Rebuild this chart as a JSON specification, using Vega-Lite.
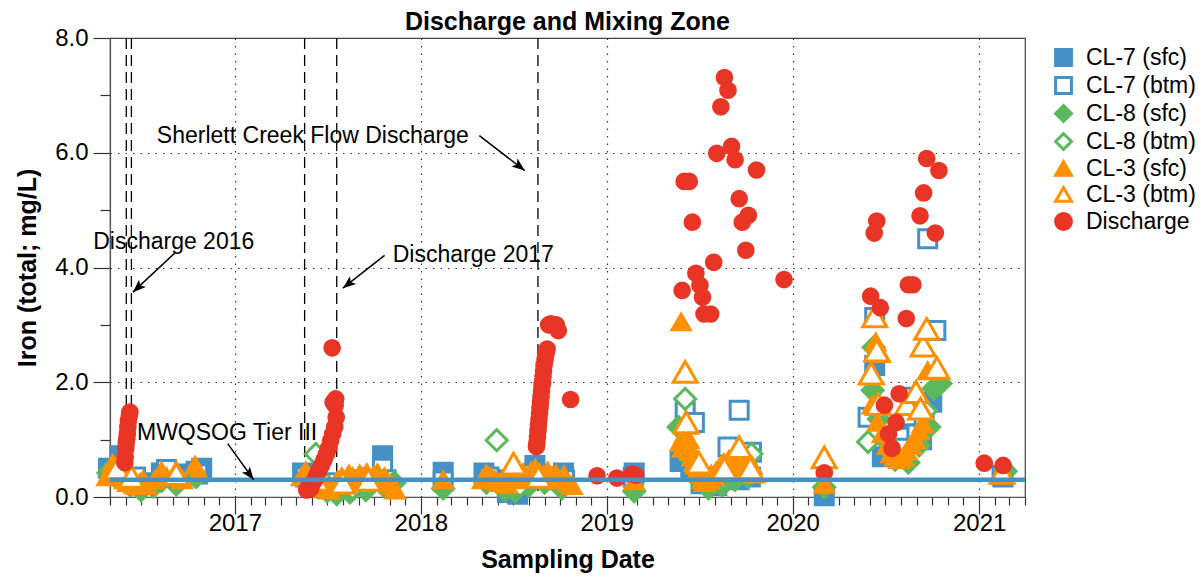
{
"$schema": "https://vega.github.io/schema/vega-lite/v6.json",
"width": 915, "height": 459,
"autosize": "none",
"padding": {"left": 110, "top": 38, "right": 175, "bottom": 84},
"background": "white",
"title": {"text": "Discharge and Mixing Zone", "font": "Liberation Sans", "fontSize": 25, "fontWeight": "bold", "color": "black", "anchor": "middle", "frame": "group", "offset": -9},
"datasets": {
"pts": [
{"s":"CL-7 (sfc)","date":"2016-04-28","iron":0.5},{"s":"CL-7 (sfc)","date":"2016-05-20","iron":0.72},{"s":"CL-7 (sfc)","date":"2016-06-15","iron":0.3},{"s":"CL-7 (sfc)","date":"2016-07-05","iron":0.25},{"s":"CL-7 (sfc)","date":"2016-08-10","iron":0.42},{"s":"CL-7 (sfc)","date":"2016-09-08","iron":0.4},{"s":"CL-7 (sfc)","date":"2016-10-17","iron":0.45},{"s":"CL-7 (sfc)","date":"2016-10-28","iron":0.5},{"s":"CL-7 (sfc)","date":"2017-05-14","iron":0.42},{"s":"CL-7 (sfc)","date":"2017-06-01","iron":0.2},{"s":"CL-7 (sfc)","date":"2017-07-01","iron":0.15},{"s":"CL-7 (sfc)","date":"2017-08-01","iron":0.2},{"s":"CL-7 (sfc)","date":"2017-09-01","iron":0.3},{"s":"CL-7 (sfc)","date":"2017-10-18","iron":0.72},{"s":"CL-7 (sfc)","date":"2018-02-14","iron":0.43},{"s":"CL-7 (sfc)","date":"2018-05-05","iron":0.42},{"s":"CL-7 (sfc)","date":"2018-05-25","iron":0.3},{"s":"CL-7 (sfc)","date":"2018-06-20","iron":0.08},{"s":"CL-7 (sfc)","date":"2018-07-10","iron":0.05},{"s":"CL-7 (sfc)","date":"2018-08-13","iron":0.55},{"s":"CL-7 (sfc)","date":"2018-09-20","iron":0.3},{"s":"CL-7 (sfc)","date":"2018-10-08","iron":0.42},{"s":"CL-7 (sfc)","date":"2019-02-24","iron":0.42},{"s":"CL-7 (sfc)","date":"2019-05-25","iron":0.62},{"s":"CL-7 (sfc)","date":"2019-06-15","iron":0.45},{"s":"CL-7 (sfc)","date":"2019-07-05","iron":0.23},{"s":"CL-7 (sfc)","date":"2019-08-01","iron":0.2},{"s":"CL-7 (sfc)","date":"2019-09-18","iron":0.3},{"s":"CL-7 (sfc)","date":"2019-10-10","iron":0.35},{"s":"CL-7 (sfc)","date":"2020-03-03","iron":0.02},{"s":"CL-7 (sfc)","date":"2020-06-10","iron":2.29},{"s":"CL-7 (sfc)","date":"2020-06-25","iron":0.7},{"s":"CL-7 (sfc)","date":"2020-07-15","iron":0.9},{"s":"CL-7 (sfc)","date":"2020-08-10","iron":1.1},{"s":"CL-7 (sfc)","date":"2020-09-10","iron":1.0},{"s":"CL-7 (sfc)","date":"2020-09-30","iron":1.65},{"s":"CL-7 (sfc)","date":"2021-02-17","iron":0.35},
{"s":"CL-7 (btm)","date":"2016-05-05","iron":0.45},{"s":"CL-7 (btm)","date":"2016-06-20","iron":0.35},{"s":"CL-7 (btm)","date":"2016-08-20","iron":0.48},{"s":"CL-7 (btm)","date":"2016-10-20","iron":0.4},{"s":"CL-7 (btm)","date":"2017-05-20","iron":0.35},{"s":"CL-7 (btm)","date":"2017-07-15","iron":0.25},{"s":"CL-7 (btm)","date":"2017-09-15","iron":0.3},{"s":"CL-7 (btm)","date":"2017-10-18","iron":0.5},{"s":"CL-7 (btm)","date":"2017-10-25","iron":0.3},{"s":"CL-7 (btm)","date":"2018-02-14","iron":0.28},{"s":"CL-7 (btm)","date":"2018-05-15","iron":0.35},{"s":"CL-7 (btm)","date":"2018-06-25","iron":0.2},{"s":"CL-7 (btm)","date":"2018-08-10","iron":0.4},{"s":"CL-7 (btm)","date":"2018-09-05","iron":0.35},{"s":"CL-7 (btm)","date":"2018-10-10","iron":0.3},{"s":"CL-7 (btm)","date":"2019-02-22","iron":0.35},{"s":"CL-7 (btm)","date":"2019-06-04","iron":1.48},{"s":"CL-7 (btm)","date":"2019-06-22","iron":1.3},{"s":"CL-7 (btm)","date":"2019-07-10","iron":0.3},{"s":"CL-7 (btm)","date":"2019-08-05","iron":0.2},{"s":"CL-7 (btm)","date":"2019-08-27","iron":0.87},{"s":"CL-7 (btm)","date":"2019-09-18","iron":1.51},{"s":"CL-7 (btm)","date":"2019-10-12","iron":0.78},{"s":"CL-7 (btm)","date":"2020-05-28","iron":1.39},{"s":"CL-7 (btm)","date":"2020-06-10","iron":3.13},{"s":"CL-7 (btm)","date":"2020-07-28","iron":1.04},{"s":"CL-7 (btm)","date":"2020-08-05","iron":0.85},{"s":"CL-7 (btm)","date":"2020-08-19","iron":1.74},{"s":"CL-7 (btm)","date":"2020-09-01","iron":1.1},{"s":"CL-7 (btm)","date":"2020-09-15","iron":1.39},{"s":"CL-7 (btm)","date":"2020-09-22","iron":4.5},{"s":"CL-7 (btm)","date":"2020-10-08","iron":2.9},{"s":"CL-7 (btm)","date":"2021-02-15","iron":0.38},
{"s":"CL-8 (sfc)","date":"2016-04-28","iron":0.42},{"s":"CL-8 (sfc)","date":"2016-06-10","iron":0.2},{"s":"CL-8 (sfc)","date":"2016-07-01","iron":0.12},{"s":"CL-8 (sfc)","date":"2016-07-25","iron":0.18},{"s":"CL-8 (sfc)","date":"2016-08-10","iron":0.28},{"s":"CL-8 (sfc)","date":"2016-09-08","iron":0.22},{"s":"CL-8 (sfc)","date":"2016-10-17","iron":0.35},{"s":"CL-8 (sfc)","date":"2017-05-18","iron":0.3},{"s":"CL-8 (sfc)","date":"2017-07-01","iron":0.1},{"s":"CL-8 (sfc)","date":"2017-07-20","iron":0.05},{"s":"CL-8 (sfc)","date":"2017-08-15","iron":0.08},{"s":"CL-8 (sfc)","date":"2017-09-15","iron":0.12},{"s":"CL-8 (sfc)","date":"2017-10-20","iron":0.2},{"s":"CL-8 (sfc)","date":"2017-11-10","iron":0.25},{"s":"CL-8 (sfc)","date":"2018-02-14","iron":0.15},{"s":"CL-8 (sfc)","date":"2018-05-10","iron":0.25},{"s":"CL-8 (sfc)","date":"2018-06-15","iron":0.12},{"s":"CL-8 (sfc)","date":"2018-07-05","iron":0.1},{"s":"CL-8 (sfc)","date":"2018-08-01","iron":0.2},{"s":"CL-8 (sfc)","date":"2018-09-01","iron":0.25},{"s":"CL-8 (sfc)","date":"2018-10-05","iron":0.15},{"s":"CL-8 (sfc)","date":"2019-02-24","iron":0.1},{"s":"CL-8 (sfc)","date":"2019-05-22","iron":1.22},{"s":"CL-8 (sfc)","date":"2019-06-10","iron":0.7},{"s":"CL-8 (sfc)","date":"2019-07-01","iron":0.3},{"s":"CL-8 (sfc)","date":"2019-07-20","iron":0.15},{"s":"CL-8 (sfc)","date":"2019-08-15","iron":0.2},{"s":"CL-8 (sfc)","date":"2019-09-10","iron":0.3},{"s":"CL-8 (sfc)","date":"2019-10-05","iron":0.35},{"s":"CL-8 (sfc)","date":"2020-03-03","iron":0.17},{"s":"CL-8 (sfc)","date":"2020-06-06","iron":1.86},{"s":"CL-8 (sfc)","date":"2020-06-08","iron":2.61},{"s":"CL-8 (sfc)","date":"2020-06-18","iron":1.36},{"s":"CL-8 (sfc)","date":"2020-07-01","iron":1.0},{"s":"CL-8 (sfc)","date":"2020-07-20","iron":0.65},{"s":"CL-8 (sfc)","date":"2020-08-15","iron":0.6},{"s":"CL-8 (sfc)","date":"2020-09-05","iron":0.9},{"s":"CL-8 (sfc)","date":"2020-09-25","iron":1.22},{"s":"CL-8 (sfc)","date":"2020-10-04","iron":1.89},{"s":"CL-8 (sfc)","date":"2020-10-17","iron":1.98},{"s":"CL-8 (sfc)","date":"2021-02-22","iron":0.45},
{"s":"CL-8 (btm)","date":"2016-05-12","iron":0.35},{"s":"CL-8 (btm)","date":"2016-06-25","iron":0.18},{"s":"CL-8 (btm)","date":"2016-09-10","iron":0.3},{"s":"CL-8 (btm)","date":"2017-06-09","iron":0.75},{"s":"CL-8 (btm)","date":"2017-06-20","iron":0.3},{"s":"CL-8 (btm)","date":"2017-08-20","iron":0.15},{"s":"CL-8 (btm)","date":"2018-05-30","iron":0.99},{"s":"CL-8 (btm)","date":"2018-07-15","iron":0.2},{"s":"CL-8 (btm)","date":"2019-06-04","iron":1.71},{"s":"CL-8 (btm)","date":"2019-07-15","iron":0.25},{"s":"CL-8 (btm)","date":"2019-10-12","iron":0.75},{"s":"CL-8 (btm)","date":"2020-05-28","iron":0.96},{"s":"CL-8 (btm)","date":"2020-07-10","iron":0.8},{"s":"CL-8 (btm)","date":"2020-09-18","iron":1.5},
{"s":"CL-3 (sfc)","date":"2016-04-25","iron":0.35},{"s":"CL-3 (sfc)","date":"2016-05-01","iron":0.45},{"s":"CL-3 (sfc)","date":"2016-05-06","iron":0.58},{"s":"CL-3 (sfc)","date":"2016-05-12","iron":0.5},{"s":"CL-3 (sfc)","date":"2016-05-18","iron":0.42},{"s":"CL-3 (sfc)","date":"2016-05-24","iron":0.35},{"s":"CL-3 (sfc)","date":"2016-05-30","iron":0.3},{"s":"CL-3 (sfc)","date":"2016-06-05","iron":0.25},{"s":"CL-3 (sfc)","date":"2016-06-11","iron":0.3},{"s":"CL-3 (sfc)","date":"2016-06-17","iron":0.22},{"s":"CL-3 (sfc)","date":"2016-06-23","iron":0.2},{"s":"CL-3 (sfc)","date":"2016-06-29","iron":0.25},{"s":"CL-3 (sfc)","date":"2016-07-05","iron":0.3},{"s":"CL-3 (sfc)","date":"2016-07-11","iron":0.2},
{"s":"CL-3 (sfc)","date":"2016-07-28","iron":0.3},{"s":"CL-3 (sfc)","date":"2016-08-10","iron":0.45},{"s":"CL-3 (sfc)","date":"2016-08-20","iron":0.35},{"s":"CL-3 (sfc)","date":"2016-09-08","iron":0.46},{"s":"CL-3 (sfc)","date":"2016-09-20","iron":0.3},{"s":"CL-3 (sfc)","date":"2016-10-15","iron":0.55},{"s":"CL-3 (sfc)","date":"2016-10-22","iron":0.42},
{"s":"CL-3 (sfc)","date":"2017-05-12","iron":0.35},{"s":"CL-3 (sfc)","date":"2017-05-20","iron":0.45},{"s":"CL-3 (sfc)","date":"2017-05-28","iron":0.3},{"s":"CL-3 (sfc)","date":"2017-06-05","iron":0.25},{"s":"CL-3 (sfc)","date":"2017-06-15","iron":0.2},{"s":"CL-3 (sfc)","date":"2017-06-25","iron":0.15},{"s":"CL-3 (sfc)","date":"2017-07-05","iron":0.12},{"s":"CL-3 (sfc)","date":"2017-07-15","iron":0.2},{"s":"CL-3 (sfc)","date":"2017-07-22","iron":0.3},{"s":"CL-3 (sfc)","date":"2017-07-30","iron":0.35},{"s":"CL-3 (sfc)","date":"2017-08-06","iron":0.3},{"s":"CL-3 (sfc)","date":"2017-08-13","iron":0.4},{"s":"CL-3 (sfc)","date":"2017-08-20","iron":0.35},{"s":"CL-3 (sfc)","date":"2017-08-27","iron":0.3},{"s":"CL-3 (sfc)","date":"2017-09-03","iron":0.4},{"s":"CL-3 (sfc)","date":"2017-09-10","iron":0.35},{"s":"CL-3 (sfc)","date":"2017-09-17","iron":0.42},{"s":"CL-3 (sfc)","date":"2017-09-24","iron":0.3},{"s":"CL-3 (sfc)","date":"2017-10-01","iron":0.38},{"s":"CL-3 (sfc)","date":"2017-10-08","iron":0.42},{"s":"CL-3 (sfc)","date":"2017-10-15","iron":0.3},{"s":"CL-3 (sfc)","date":"2017-10-22","iron":0.35},{"s":"CL-3 (sfc)","date":"2017-10-29","iron":0.25},{"s":"CL-3 (sfc)","date":"2017-11-05","iron":0.2},{"s":"CL-3 (sfc)","date":"2017-11-12","iron":0.12},
{"s":"CL-3 (sfc)","date":"2018-02-14","iron":0.3},
{"s":"CL-3 (sfc)","date":"2018-05-02","iron":0.3},{"s":"CL-3 (sfc)","date":"2018-05-10","iron":0.4},{"s":"CL-3 (sfc)","date":"2018-05-18","iron":0.35},{"s":"CL-3 (sfc)","date":"2018-05-26","iron":0.3},{"s":"CL-3 (sfc)","date":"2018-06-03","iron":0.25},{"s":"CL-3 (sfc)","date":"2018-06-11","iron":0.3},{"s":"CL-3 (sfc)","date":"2018-06-19","iron":0.22},{"s":"CL-3 (sfc)","date":"2018-06-27","iron":0.35},{"s":"CL-3 (sfc)","date":"2018-07-05","iron":0.3},{"s":"CL-3 (sfc)","date":"2018-07-13","iron":0.38},{"s":"CL-3 (sfc)","date":"2018-07-21","iron":0.42},{"s":"CL-3 (sfc)","date":"2018-07-29","iron":0.35},{"s":"CL-3 (sfc)","date":"2018-08-06","iron":0.45},{"s":"CL-3 (sfc)","date":"2018-08-14","iron":0.5},{"s":"CL-3 (sfc)","date":"2018-08-22","iron":0.42},{"s":"CL-3 (sfc)","date":"2018-08-30","iron":0.38},{"s":"CL-3 (sfc)","date":"2018-09-07","iron":0.45},{"s":"CL-3 (sfc)","date":"2018-09-15","iron":0.35},{"s":"CL-3 (sfc)","date":"2018-09-23","iron":0.4},{"s":"CL-3 (sfc)","date":"2018-10-01","iron":0.3},{"s":"CL-3 (sfc)","date":"2018-10-09","iron":0.38},{"s":"CL-3 (sfc)","date":"2018-10-17","iron":0.25},{"s":"CL-3 (sfc)","date":"2018-10-25","iron":0.2},
{"s":"CL-3 (sfc)","date":"2019-02-24","iron":0.28},
{"s":"CL-3 (sfc)","date":"2019-05-27","iron":3.05},{"s":"CL-3 (sfc)","date":"2019-05-25","iron":0.95},{"s":"CL-3 (sfc)","date":"2019-05-30","iron":0.85},{"s":"CL-3 (sfc)","date":"2019-06-03","iron":1.1},{"s":"CL-3 (sfc)","date":"2019-06-08","iron":1.25},{"s":"CL-3 (sfc)","date":"2019-06-11","iron":1.0},{"s":"CL-3 (sfc)","date":"2019-06-14","iron":0.8},{"s":"CL-3 (sfc)","date":"2019-06-18","iron":0.7},{"s":"CL-3 (sfc)","date":"2019-06-22","iron":0.6},{"s":"CL-3 (sfc)","date":"2019-06-26","iron":0.65},{"s":"CL-3 (sfc)","date":"2019-06-30","iron":0.5},{"s":"CL-3 (sfc)","date":"2019-07-04","iron":0.4},{"s":"CL-3 (sfc)","date":"2019-07-08","iron":0.3},{"s":"CL-3 (sfc)","date":"2019-07-12","iron":0.25},{"s":"CL-3 (sfc)","date":"2019-07-16","iron":0.35},{"s":"CL-3 (sfc)","date":"2019-07-20","iron":0.3},{"s":"CL-3 (sfc)","date":"2019-07-25","iron":0.4},{"s":"CL-3 (sfc)","date":"2019-07-30","iron":0.35},{"s":"CL-3 (sfc)","date":"2019-08-04","iron":0.45},{"s":"CL-3 (sfc)","date":"2019-08-09","iron":0.5},{"s":"CL-3 (sfc)","date":"2019-08-14","iron":0.55},{"s":"CL-3 (sfc)","date":"2019-08-19","iron":0.6},{"s":"CL-3 (sfc)","date":"2019-08-24","iron":0.55},{"s":"CL-3 (sfc)","date":"2019-08-29","iron":0.65},{"s":"CL-3 (sfc)","date":"2019-09-03","iron":0.5},{"s":"CL-3 (sfc)","date":"2019-09-08","iron":0.7},{"s":"CL-3 (sfc)","date":"2019-09-13","iron":0.6},{"s":"CL-3 (sfc)","date":"2019-09-18","iron":0.75},{"s":"CL-3 (sfc)","date":"2019-09-23","iron":0.55},{"s":"CL-3 (sfc)","date":"2019-09-28","iron":0.5},{"s":"CL-3 (sfc)","date":"2019-10-03","iron":0.6},{"s":"CL-3 (sfc)","date":"2019-10-08","iron":0.45},{"s":"CL-3 (sfc)","date":"2019-10-13","iron":0.55},{"s":"CL-3 (sfc)","date":"2019-10-18","iron":0.4},
{"s":"CL-3 (sfc)","date":"2020-03-03","iron":0.22},
{"s":"CL-3 (sfc)","date":"2020-06-05","iron":1.6},{"s":"CL-3 (sfc)","date":"2020-06-12","iron":2.7},{"s":"CL-3 (sfc)","date":"2020-06-21","iron":2.5},{"s":"CL-3 (sfc)","date":"2020-06-15","iron":1.3},{"s":"CL-3 (sfc)","date":"2020-06-25","iron":1.1},{"s":"CL-3 (sfc)","date":"2020-07-05","iron":0.9},{"s":"CL-3 (sfc)","date":"2020-07-12","iron":0.75},{"s":"CL-3 (sfc)","date":"2020-07-20","iron":0.7},{"s":"CL-3 (sfc)","date":"2020-07-28","iron":0.65},{"s":"CL-3 (sfc)","date":"2020-08-05","iron":0.7},{"s":"CL-3 (sfc)","date":"2020-08-12","iron":0.8},{"s":"CL-3 (sfc)","date":"2020-08-20","iron":0.9},{"s":"CL-3 (sfc)","date":"2020-08-28","iron":1.0},{"s":"CL-3 (sfc)","date":"2020-09-05","iron":1.15},{"s":"CL-3 (sfc)","date":"2020-09-12","iron":1.28},{"s":"CL-3 (sfc)","date":"2020-09-22","iron":2.2},{"s":"CL-3 (sfc)","date":"2020-10-08","iron":2.2},
{"s":"CL-3 (sfc)","date":"2021-02-17","iron":0.4},
{"s":"CL-3 (btm)","date":"2016-05-15","iron":0.5},{"s":"CL-3 (btm)","date":"2016-06-12","iron":0.35},{"s":"CL-3 (btm)","date":"2016-09-08","iron":0.4},{"s":"CL-3 (btm)","date":"2017-06-10","iron":0.3},{"s":"CL-3 (btm)","date":"2017-08-01","iron":0.25},{"s":"CL-3 (btm)","date":"2017-09-20","iron":0.3},{"s":"CL-3 (btm)","date":"2018-07-02","iron":0.58},{"s":"CL-3 (btm)","date":"2018-08-20","iron":0.35},{"s":"CL-3 (btm)","date":"2019-06-04","iron":2.18},{"s":"CL-3 (btm)","date":"2019-06-06","iron":1.3},{"s":"CL-3 (btm)","date":"2019-07-01","iron":0.6},{"s":"CL-3 (btm)","date":"2019-08-20","iron":0.5},{"s":"CL-3 (btm)","date":"2019-09-18","iron":0.87},{"s":"CL-3 (btm)","date":"2019-10-10","iron":0.5},{"s":"CL-3 (btm)","date":"2020-03-03","iron":0.69},{"s":"CL-3 (btm)","date":"2020-06-03","iron":2.15},{"s":"CL-3 (btm)","date":"2020-06-10","iron":3.15},{"s":"CL-3 (btm)","date":"2020-06-14","iron":2.55},{"s":"CL-3 (btm)","date":"2020-06-17","iron":1.62},{"s":"CL-3 (btm)","date":"2020-08-13","iron":1.62},{"s":"CL-3 (btm)","date":"2020-08-30","iron":1.83},{"s":"CL-3 (btm)","date":"2020-09-08","iron":1.54},{"s":"CL-3 (btm)","date":"2020-09-13","iron":2.64},{"s":"CL-3 (btm)","date":"2020-09-20","iron":2.93},{"s":"CL-3 (btm)","date":"2020-10-10","iron":2.25},{"s":"CL-3 (btm)","date":"2021-02-15","iron":0.42},
{"s":"Discharge","date":"2016-05-30","iron":0.6},{"s":"Discharge","date":"2016-05-31","iron":0.7},{"s":"Discharge","date":"2016-06-01","iron":0.85},{"s":"Discharge","date":"2016-06-02","iron":0.95},{"s":"Discharge","date":"2016-06-03","iron":1.02},{"s":"Discharge","date":"2016-06-04","iron":1.1},{"s":"Discharge","date":"2016-06-05","iron":1.22},{"s":"Discharge","date":"2016-06-06","iron":1.33},{"s":"Discharge","date":"2016-06-08","iron":1.42},{"s":"Discharge","date":"2016-06-09","iron":1.48},
{"s":"Discharge","date":"2017-05-22","iron":0.12},{"s":"Discharge","date":"2017-05-26","iron":0.18},{"s":"Discharge","date":"2017-05-30","iron":0.15},{"s":"Discharge","date":"2017-06-03","iron":0.25},{"s":"Discharge","date":"2017-06-07","iron":0.3},{"s":"Discharge","date":"2017-06-11","iron":0.38},{"s":"Discharge","date":"2017-06-15","iron":0.46},{"s":"Discharge","date":"2017-06-20","iron":0.55},{"s":"Discharge","date":"2017-06-25","iron":0.65},{"s":"Discharge","date":"2017-06-30","iron":0.75},{"s":"Discharge","date":"2017-07-04","iron":0.85},{"s":"Discharge","date":"2017-07-08","iron":0.98},{"s":"Discharge","date":"2017-07-12","iron":1.1},{"s":"Discharge","date":"2017-07-16","iron":1.22},{"s":"Discharge","date":"2017-07-19","iron":1.39},{"s":"Discharge","date":"2017-07-17","iron":1.6},{"s":"Discharge","date":"2017-07-18","iron":1.71},{"s":"Discharge","date":"2017-07-13","iron":1.65},{"s":"Discharge","date":"2017-07-11","iron":2.6},
{"s":"Discharge","date":"2018-08-16","iron":0.88},{"s":"Discharge","date":"2018-08-17","iron":0.95},{"s":"Discharge","date":"2018-08-18","iron":1.05},{"s":"Discharge","date":"2018-08-19","iron":1.15},{"s":"Discharge","date":"2018-08-20","iron":1.25},{"s":"Discharge","date":"2018-08-21","iron":1.35},{"s":"Discharge","date":"2018-08-22","iron":1.45},{"s":"Discharge","date":"2018-08-23","iron":1.55},{"s":"Discharge","date":"2018-08-24","iron":1.65},{"s":"Discharge","date":"2018-08-25","iron":1.75},{"s":"Discharge","date":"2018-08-26","iron":1.85},{"s":"Discharge","date":"2018-08-27","iron":1.95},{"s":"Discharge","date":"2018-08-28","iron":2.0},{"s":"Discharge","date":"2018-08-29","iron":2.1},{"s":"Discharge","date":"2018-08-30","iron":2.2},{"s":"Discharge","date":"2018-08-31","iron":2.3},{"s":"Discharge","date":"2018-09-02","iron":2.4},{"s":"Discharge","date":"2018-09-04","iron":2.5},{"s":"Discharge","date":"2018-09-06","iron":2.58},{"s":"Discharge","date":"2018-09-09","iron":3.0},{"s":"Discharge","date":"2018-09-13","iron":3.02},{"s":"Discharge","date":"2018-09-18","iron":3.0},{"s":"Discharge","date":"2018-09-24","iron":3.0},{"s":"Discharge","date":"2018-09-28","iron":2.9},{"s":"Discharge","date":"2018-10-22","iron":1.7},
{"s":"Discharge","date":"2018-12-13","iron":0.37},{"s":"Discharge","date":"2019-01-21","iron":0.33},{"s":"Discharge","date":"2019-02-20","iron":0.4},{"s":"Discharge","date":"2019-02-27","iron":0.38},
{"s":"Discharge","date":"2019-05-29","iron":3.6},{"s":"Discharge","date":"2019-06-02","iron":5.5},{"s":"Discharge","date":"2019-06-12","iron":5.5},{"s":"Discharge","date":"2019-06-18","iron":4.79},{"s":"Discharge","date":"2019-06-25","iron":3.9},{"s":"Discharge","date":"2019-07-03","iron":3.69},{"s":"Discharge","date":"2019-07-08","iron":3.48},{"s":"Discharge","date":"2019-07-11","iron":3.19},{"s":"Discharge","date":"2019-07-24","iron":3.19},{"s":"Discharge","date":"2019-07-30","iron":4.09},{"s":"Discharge","date":"2019-08-05","iron":5.99},{"s":"Discharge","date":"2019-08-13","iron":6.8},{"s":"Discharge","date":"2019-08-20","iron":7.31},{"s":"Discharge","date":"2019-08-27","iron":7.09},{"s":"Discharge","date":"2019-09-03","iron":6.11},{"s":"Discharge","date":"2019-09-10","iron":5.88},{"s":"Discharge","date":"2019-09-18","iron":5.2},{"s":"Discharge","date":"2019-09-24","iron":4.79},{"s":"Discharge","date":"2019-10-01","iron":4.3},{"s":"Discharge","date":"2019-10-06","iron":4.91},{"s":"Discharge","date":"2019-10-22","iron":5.7},{"s":"Discharge","date":"2019-12-15","iron":3.79},
{"s":"Discharge","date":"2020-03-03","iron":0.42},
{"s":"Discharge","date":"2020-06-02","iron":3.5},{"s":"Discharge","date":"2020-06-09","iron":4.6},{"s":"Discharge","date":"2020-06-14","iron":4.81},{"s":"Discharge","date":"2020-06-21","iron":3.3},{"s":"Discharge","date":"2020-06-29","iron":1.6},{"s":"Discharge","date":"2020-07-07","iron":1.1},{"s":"Discharge","date":"2020-07-14","iron":0.85},{"s":"Discharge","date":"2020-07-22","iron":1.3},{"s":"Discharge","date":"2020-07-28","iron":1.8},{"s":"Discharge","date":"2020-08-11","iron":3.11},{"s":"Discharge","date":"2020-08-15","iron":3.7},{"s":"Discharge","date":"2020-08-24","iron":3.7},{"s":"Discharge","date":"2020-09-07","iron":4.9},{"s":"Discharge","date":"2020-09-14","iron":5.3},{"s":"Discharge","date":"2020-09-20","iron":5.9},{"s":"Discharge","date":"2020-10-07","iron":4.6},{"s":"Discharge","date":"2020-10-14","iron":5.69},
{"s":"Discharge","date":"2021-01-11","iron":0.59},{"s":"Discharge","date":"2021-02-17","iron":0.55}
],
"vlines": [{"date":"2016-06-02"},{"date":"2016-06-12"},{"date":"2017-05-18"},{"date":"2017-07-20"},{"date":"2018-08-19"}],
"guide": [{"label":"MWQSOG Tier III","iron":0.3}],
"ann": [
{"label":"Sherlett Creek Flow Discharge","date":"2016-08-01","iron":6.3},
{"label":"Discharge 2016","date":"2016-03-29","iron":4.44},
{"label":"Discharge 2017","date":"2017-11-07","iron":4.21},
{"label":"MWQSOG Tier III","date":"2016-06-23","iron":1.12}
],
"arrows": [
{"id":"a1","date":"2018-04-26","iron":6.3,"date2":"2018-07-24","iron2":5.69},
{"id":"a2","date":"2016-09-05","iron":4.25,"date2":"2016-06-15","iron2":3.57},
{"id":"a3","date":"2017-10-22","iron":4.21,"date2":"2017-08-01","iron2":3.64},
{"id":"a4","date":"2016-12-18","iron":0.93,"date2":"2017-02-07","iron2":0.3}
]
},
"layer": [
{
"data": {"name": "vlines"},
"mark": {"type": "rule", "color": "black", "strokeWidth": 1.3, "strokeDash": [11, 6]},
"encoding": {"x": {"field": "date", "type": "temporal", "scale": {"type": "utc"}, "title": "Sampling Date"}}
},
{
"data": {"name": "pts"},
"transform": [{"filter": {"field": "s", "oneOf": ["CL-7 (sfc)", "CL-7 (btm)"]}}],
"mark": {"type": "point", "filled": true, "strokeWidth": 3, "opacity": 1, "size": 324},
"encoding": {
"x": {"field": "date", "type": "temporal", "title": "Sampling Date",
 "scale": {"type": "utc", "domain": [{"year": 2016, "month": 5, "date": 1, "utc": true}, {"year": 2021, "month": 4, "date": 1, "utc": true}]},
 "axis": {"tickCount": {"interval": "month", "step": 1},
  "labelExpr": "utcmonth(datum.value) === 0 ? utcFormat(datum.value, '%Y') : ''",
  "labelFontSize": 24, "labelColor": "black", "labelPadding": -3, "labelOverlap": false, "labelFlush": false,
  "tickSize": {"condition": {"test": "utcmonth(datum.value) === 0", "value": 17}, "value": 8},
  "tickColor": "#333", "tickWidth": 1.2, "domainColor": "#555", "domainWidth": 1.2,
  "grid": true, "gridDash": [1.5, 6], "gridColor": "#333", "gridWidth": 1.2,
  "gridOpacity": {"condition": {"test": "utcmonth(datum.value) === 0", "value": 1}, "value": 0},
  "titleFontSize": 25, "titleFontWeight": "bold", "titleColor": "black", "titlePadding": 12}},
"y": {"field": "iron", "type": "quantitative", "title": "Iron (total; mg/L)",
 "scale": {"domain": [0, 8], "nice": false},
 "axis": {"values": [0, 1, 2, 3, 4, 5, 6, 7, 8],
  "labelExpr": "datum.value % 2 === 0 ? format(datum.value, '.1f') : ''",
  "labelFontSize": 24, "labelColor": "black", "labelPadding": 5,
  "tickSize": {"condition": {"test": "datum.value % 2 === 0", "value": 17}, "value": 10},
  "tickColor": "#333", "tickWidth": 1.2, "domainColor": "#555", "domainWidth": 1.2,
  "grid": true, "gridDash": [1.5, 6], "gridColor": "#333", "gridWidth": 1.2,
  "gridOpacity": {"condition": {"test": "datum.value % 2 === 0 && datum.value > 0 && datum.value < 8", "value": 1}, "value": 0},
  "titleFontSize": 25, "titleFontWeight": "bold", "titleColor": "black", "titlePadding": 14}},
"shape": {"field": "s", "type": "nominal", "title": null,
 "scale": {"domain": ["CL-7 (sfc)", "CL-7 (btm)", "CL-8 (sfc)", "CL-8 (btm)", "CL-3 (sfc)", "CL-3 (btm)", "Discharge"], "range": ["square", "square", "diamond", "diamond", "triangle-up", "triangle-up", "circle"]}},
"fill": {"field": "s", "type": "nominal", "title": null,
 "scale": {"domain": ["CL-7 (sfc)", "CL-7 (btm)", "CL-8 (sfc)", "CL-8 (btm)", "CL-3 (sfc)", "CL-3 (btm)", "Discharge"], "range": ["#4491c6", "white", "#5cb85c", "white", "#ff9000", "white", "#e83526"]}},
"stroke": {"field": "s", "type": "nominal", "title": null,
 "scale": {"domain": ["CL-7 (sfc)", "CL-7 (btm)", "CL-8 (sfc)", "CL-8 (btm)", "CL-3 (sfc)", "CL-3 (btm)", "Discharge"], "range": ["#4491c6", "#4491c6", "#5cb85c", "#5cb85c", "#ff9000", "#ff9000", "#e83526"]}}
}
},
{
"data": {"name": "pts"},
"transform": [{"filter": {"field": "s", "oneOf": ["CL-8 (sfc)", "CL-8 (btm)"]}}],
"mark": {"type": "point", "filled": true, "strokeWidth": 3, "opacity": 1, "size": 440},
"encoding": {
"x": {"field": "date", "type": "temporal", "scale": {"type": "utc"}, "title": "Sampling Date"},
"y": {"field": "iron", "type": "quantitative", "title": "Iron (total; mg/L)"},
"shape": {"field": "s", "type": "nominal", "title": null},
"fill": {"field": "s", "type": "nominal", "title": null},
"stroke": {"field": "s", "type": "nominal", "title": null}
}
},
{
"data": {"name": "pts"},
"transform": [{"filter": {"field": "s", "equal": "CL-3 (sfc)"}}],
"mark": {"type": "point", "filled": true, "strokeWidth": 3, "opacity": 1, "size": 330},
"encoding": {
"x": {"field": "date", "type": "temporal", "scale": {"type": "utc"}, "title": "Sampling Date"},
"y": {"field": "iron", "type": "quantitative", "title": "Iron (total; mg/L)"},
"shape": {"field": "s", "type": "nominal", "title": null},
"fill": {"field": "s", "type": "nominal", "title": null},
"stroke": {"field": "s", "type": "nominal", "title": null}
}
},
{
"data": {"name": "pts"},
"transform": [{"filter": {"field": "s", "equal": "CL-3 (btm)"}}],
"mark": {"type": "point", "filled": true, "strokeWidth": 3, "opacity": 1, "size": 576},
"encoding": {
"x": {"field": "date", "type": "temporal", "scale": {"type": "utc"}, "title": "Sampling Date"},
"y": {"field": "iron", "type": "quantitative", "title": "Iron (total; mg/L)"},
"shape": {"field": "s", "type": "nominal", "title": null},
"fill": {"field": "s", "type": "nominal", "title": null},
"stroke": {"field": "s", "type": "nominal", "title": null}
}
},
{
"data": {"name": "pts"},
"transform": [{"filter": {"field": "s", "equal": "Discharge"}}],
"mark": {"type": "point", "filled": true, "strokeWidth": 3, "opacity": 1, "size": 215},
"encoding": {
"x": {"field": "date", "type": "temporal", "scale": {"type": "utc"}, "title": "Sampling Date"},
"y": {"field": "iron", "type": "quantitative", "title": "Iron (total; mg/L)"},
"shape": {"field": "s", "type": "nominal", "title": null},
"fill": {"field": "s", "type": "nominal", "title": null},
"stroke": {"field": "s", "type": "nominal", "title": null}
}
},
{
"data": {"name": "guide"},
"mark": {"type": "rule", "color": "#4491c6", "strokeWidth": 4.5},
"encoding": {"y": {"field": "iron", "type": "quantitative", "title": "Iron (total; mg/L)"}}
},
{
"data": {"name": "ann"},
"mark": {"type": "text", "align": "left", "baseline": "middle", "fontSize": 23, "font": "Liberation Sans", "color": "black"},
"encoding": {
"x": {"field": "date", "type": "temporal", "scale": {"type": "utc"}, "title": "Sampling Date"},
"y": {"field": "iron", "type": "quantitative", "title": "Iron (total; mg/L)"},
"text": {"field": "label"}
}
},
{
"data": {"name": "arrows"},
"mark": {"type": "rule", "color": "black", "strokeWidth": 1.5},
"encoding": {
"x": {"field": "date", "type": "temporal", "scale": {"type": "utc"}, "title": "Sampling Date"},
"y": {"field": "iron", "type": "quantitative", "title": "Iron (total; mg/L)"},
"x2": {"field": "date2"},
"y2": {"field": "iron2"}
}
},
{
"data": {"name": "arrows"},
"transform": [{"filter": "datum.id === 'a1'"}],
"mark": {"type": "point", "shape": "M0,0L-1,2.6L0,2L1,2.6Z", "filled": true, "color": "black", "opacity": 1, "size": 100, "angle": 128},
"encoding": {"x": {"field": "date2", "type": "temporal", "scale": {"type": "utc"}, "title": "Sampling Date"}, "y": {"field": "iron2", "type": "quantitative", "title": "Iron (total; mg/L)"}}
},
{
"data": {"name": "arrows"},
"transform": [{"filter": "datum.id === 'a2'"}],
"mark": {"type": "point", "shape": "M0,0L-1,2.6L0,2L1,2.6Z", "filled": true, "color": "black", "opacity": 1, "size": 100, "angle": 227},
"encoding": {"x": {"field": "date2", "type": "temporal", "scale": {"type": "utc"}, "title": "Sampling Date"}, "y": {"field": "iron2", "type": "quantitative", "title": "Iron (total; mg/L)"}}
},
{
"data": {"name": "arrows"},
"transform": [{"filter": "datum.id === 'a3'"}],
"mark": {"type": "point", "shape": "M0,0L-1,2.6L0,2L1,2.6Z", "filled": true, "color": "black", "opacity": 1, "size": 100, "angle": 232},
"encoding": {"x": {"field": "date2", "type": "temporal", "scale": {"type": "utc"}, "title": "Sampling Date"}, "y": {"field": "iron2", "type": "quantitative", "title": "Iron (total; mg/L)"}}
},
{
"data": {"name": "arrows"},
"transform": [{"filter": "datum.id === 'a4'"}],
"mark": {"type": "point", "shape": "M0,0L-1,2.6L0,2L1,2.6Z", "filled": true, "color": "black", "opacity": 1, "size": 100, "angle": 143},
"encoding": {"x": {"field": "date2", "type": "temporal", "scale": {"type": "utc"}, "title": "Sampling Date"}, "y": {"field": "iron2", "type": "quantitative", "title": "Iron (total; mg/L)"}}
}
],
"config": {
"font": "Liberation Sans",
"view": {"stroke": "#444", "strokeWidth": 1.2},
"legend": {"orient": "right", "offset": 19, "padding": 8, "labelFontSize": 23, "labelColor": "black", "labelFont": "Liberation Sans", "symbolSize": 250, "symbolStrokeWidth": 3, "rowPadding": -1, "labelOffset": 11}
}
}
